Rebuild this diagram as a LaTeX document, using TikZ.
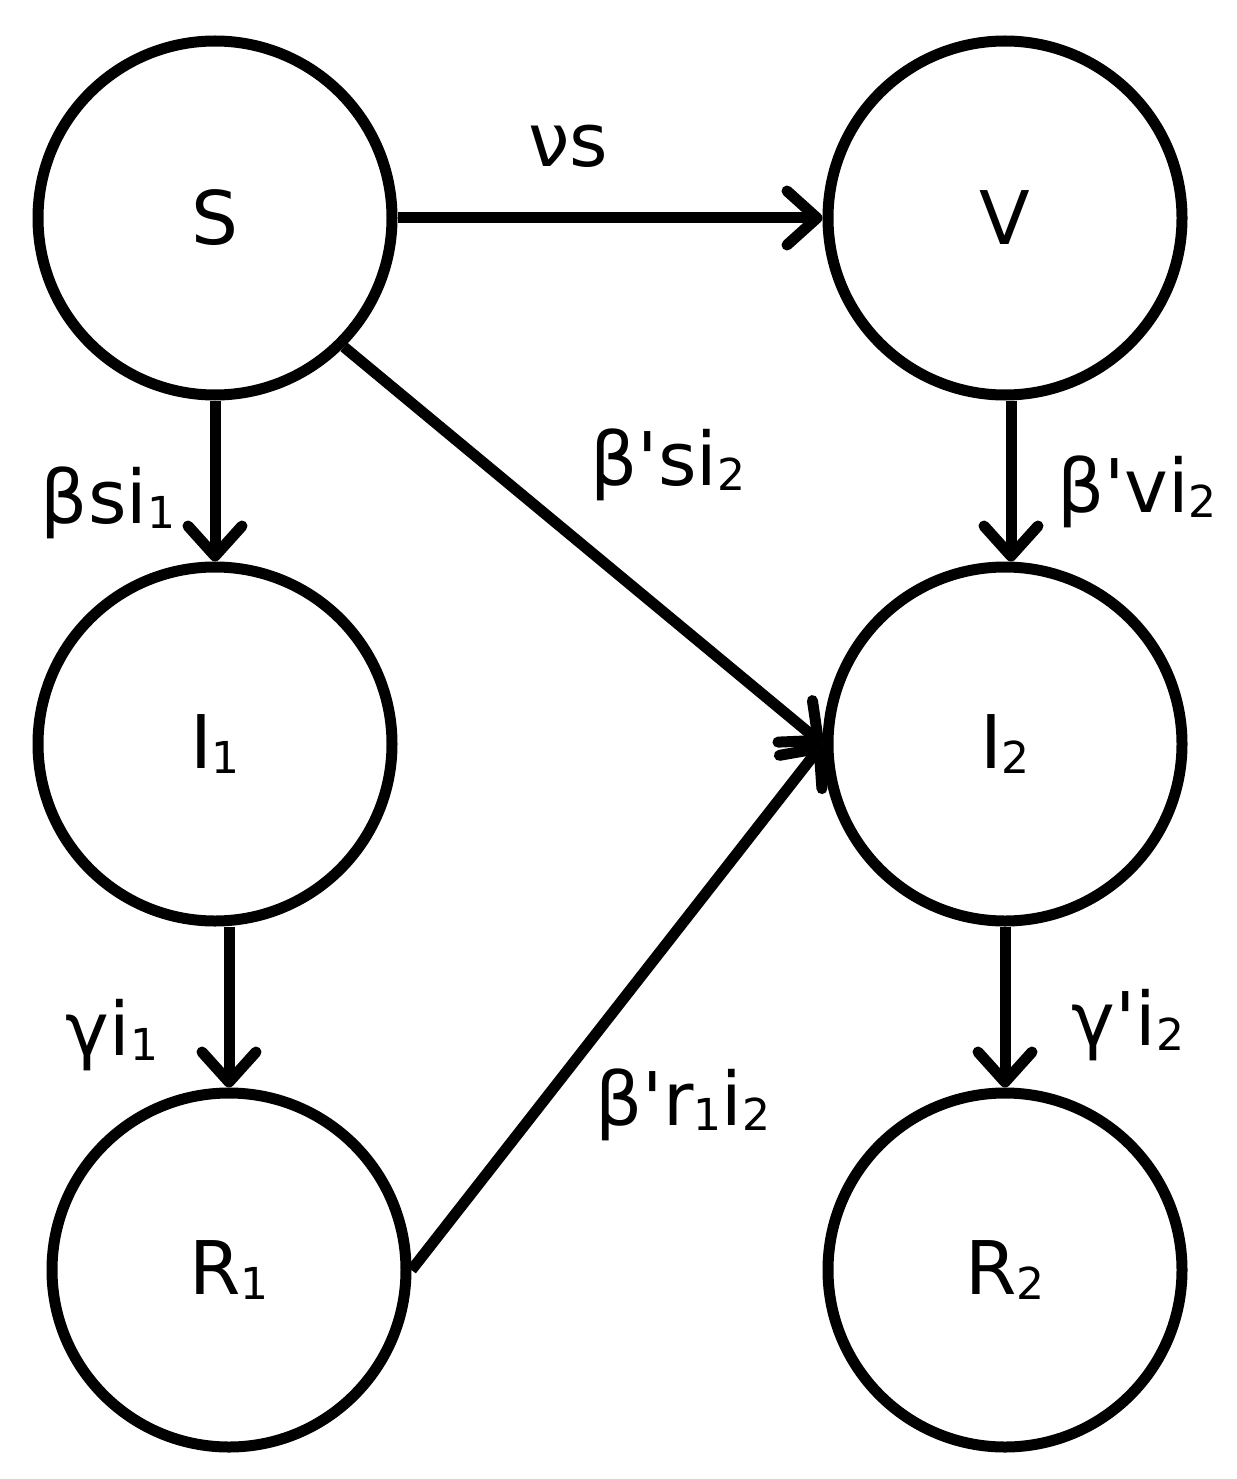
\documentclass[tikz,border=0pt]{standalone}
\usepackage{fontspec}
\newfontfamily\dv{DejaVu Sans}[Ligatures=TeXOff]
\newcommand\sbs[1]{\raisebox{-5pt}{\fontsize{44}{48}\selectfont #1}}
\usetikzlibrary{arrows.meta}
\begin{document}
\begin{tikzpicture}[x=1pt,y=-1pt,
  comp/.style={circle,draw,line width=11pt,minimum size=354pt,inner sep=0pt,font=\dv\fontsize{74}{80}\selectfont},
  lbl/.style={inner sep=0pt,font=\dv\fontsize{74}{80}\selectfont},
  flow/.style={line width=11pt,-{Straight Barb[length=30pt,width=54pt,round]}}]
\useasboundingbox (0,0) rectangle (1236,1479);
\node[comp] (S)  at (215,218)  {S};
\node[comp] (V)  at (1005,218) {V};
\node[comp] (I1) at (215,744)  {I\sbs{1}};
\node[comp] (I2) at (1005,744) {I\sbs{2}};
\node[comp] (R1) at (229,1270) {R\sbs{1}};
\node[comp] (R2) at (1005,1270) {R\sbs{2}};
\draw[flow] (S.east) -- (V.west);
\draw[flow] (S.south) -- (I1.north);
\draw[flow] ([xshift=6pt]V.south) -- ([xshift=6pt]I2.north);
\draw[flow] (I1.south -| R1.north) -- (R1.north);
\draw[flow] (I2.south) -- (R2.north);
\draw[flow] (S.south east) -- (I2.west);
\draw[flow] (R1.east) -- (I2.west);
\node[lbl] (lvs)  at (568,146)  {νs};
\node[lbl] (lbs)  at (108,503)  {βsi\sbs{1}};
\node[lbl] (lbs2) at (668,465)  {β'si\sbs{2}};
\node[lbl] (lbv)  at (1137,492) {β'vi\sbs{2}};
\node[lbl] (lgi)  at (112,1035) {γi\sbs{1}};
\node[lbl] (lgi2) at (1128,1025) {γ'i\sbs{2}};
\node[lbl] (lbr)  at (683,1105) {β'r\sbs{1}i\sbs{2}};
\end{tikzpicture}
\end{document}
